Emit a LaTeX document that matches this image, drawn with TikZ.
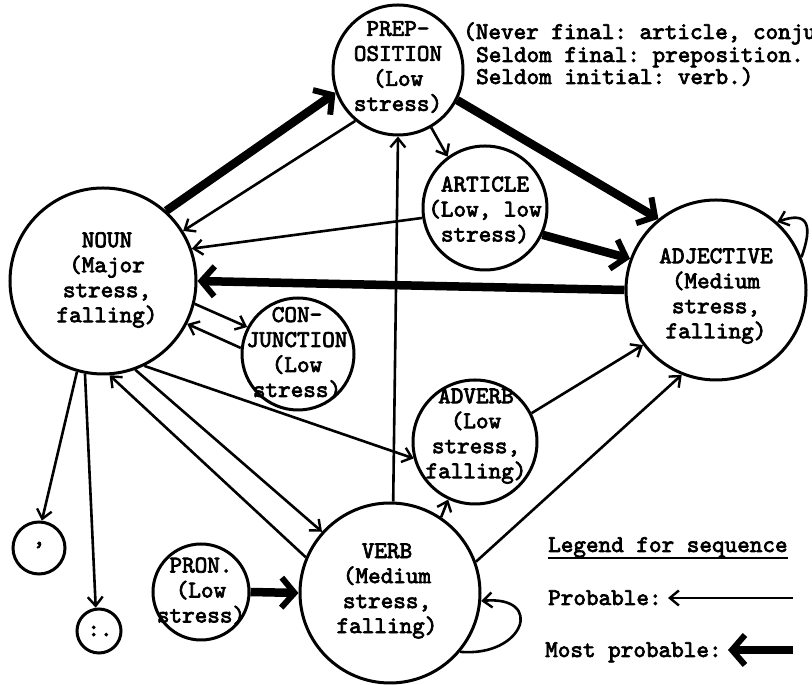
\documentclass[tikz,border=0pt]{standalone}
\usepackage{fontspec}
\setmonofont{lmmono10-regular.otf}[FakeBold=3]
\usetikzlibrary{arrows.meta}
\begin{document}
\begin{tikzpicture}[x=1pt,y=1pt,
  st/.style={circle,draw,line width=3pt,inner sep=0pt},
  lbl/.style={align=center,inner sep=0pt,font=\ttfamily\fontsize{24}{25}\selectfont},
  note/.style={anchor=base west,inner sep=0pt,font=\ttfamily\fontsize{24}{25}\selectfont},
  prob/.style={line width=2.6pt,-{Straight Barb[length=9pt,width=15pt,line width=2.4pt]}},
  mostprob/.style={line width=8.5pt,-{Straight Barb[length=13pt,width=30pt,line width=6pt]}},
]
\useasboundingbox (0,0) rectangle (812,685);

% states
\node[st,minimum size=186pt] (noun) at (103,404) {};
\node[st,minimum size=130pt] (prep) at (398,615) {};
\node[st,minimum size=124pt] (article) at (485,477) {};
\node[st,minimum size=180pt] (adj) at (716,395) {};
\node[st,minimum size=112pt] (conj) at (298,331) {};
\node[st,minimum size=124pt] (adverb) at (475,243) {};
\node[st,minimum size=180pt] (verb) at (390,92) {};
\node[st,minimum size=96pt] (pron) at (201,93) {};
\node[st,minimum size=52pt] (comma) at (39,137) {};
\node[st,minimum size=44pt] (colon) at (99,54) {};

% labels
\node[lbl] (nounT) at (107,405) {NOUN\\(Major\\stress,\\falling)};
\node[lbl] (prepT) at (398,618) {PREP-\\OSITION\\(Low\\stress)};
\node[lbl] (articleT) at (485,475) {ARTICLE\\(Low, low\\stress)};
\node[lbl] (adjT) at (716,389) {ADJECTIVE\\(Medium\\stress,\\falling)};
\node[lbl] (conjT) at (297,332) {CON-\\JUNCTION\\(Low\\stress)};
\node[lbl] (adverbT) at (476,249) {ADVERB\\(Low\\stress,\\falling)};
\node[lbl] (verbT) at (387,94) {VERB\\(Medium\\stress,\\falling)};
\node[lbl] (pronT) at (201,94) {PRON.\\(Low\\stress)};
\node[lbl] (commaT) at (39,140) {,};
\node[lbl] (colonT) at (100,54) {:.};

% note
\node[note] (note1) at (463,646) {(Never final: article, conju};
\node[note] (note2) at (476,623) {Seldom final: preposition.};
\node[note] (note3) at (476,601) {Seldom initial: verb.)};

% most probable transitions
\draw[mostprob] (noun.48) -- (prep.200);
\draw[mostprob] (prep.333) -- (adj.129);
\draw[mostprob] (article.335) -- (adj.160);
\draw[mostprob] (adj.180) -- (noun.0);
\draw[mostprob] (pron.0) -- (verb.180);

% probable transitions
\draw[prob] (prep.230) -- (noun.32);
\draw[prob] (prep.300) -- (article.126);
\draw[prob] (article.189) -- (noun.20);
\draw[prob] (noun.346) -- (conj.152);
\draw[prob] (conj.174) -- (noun.333);
\draw[prob] (noun.296) -- (adverb.195);
\draw[prob] (noun.290) -- (verb.138);
\draw[prob] (verb.157) -- (noun.274);
\draw[prob] (noun.254) -- (comma.84);
\draw[prob] (noun.259) -- (colon.98);
\draw[prob] (verb.88) -- (prep.270);
\draw[prob] (verb.56) -- (adverb.245);
\draw[prob] (adverb.27) -- (adj.217);
\draw[prob] (verb.20) -- (adj.248);
\draw[prob] (adj.21) to[out=70,in=20,looseness=2] (adj.48);
\draw[prob] (verb.320) to[out=-5,in=5,looseness=3] (verb.355);

% legend
\node[note] (legend) at (548,133) {Legend for sequence};
\draw[line width=2.5pt] ([yshift=-6pt]legend.base west) -- ([yshift=-6pt]legend.base east);
\node[note] (probT) at (548,80) {Probable:};
\coordinate (pstart) at (793,87);
\coordinate (pend) at (668,87);
\draw[prob] (pstart) -- (pend);
\node[note] (mostT) at (545,28) {Most probable:};
\coordinate (mstart) at (793,35);
\coordinate (mend) at (728,35);
\draw[mostprob] (mstart) -- (mend);
\end{tikzpicture}
\end{document}
